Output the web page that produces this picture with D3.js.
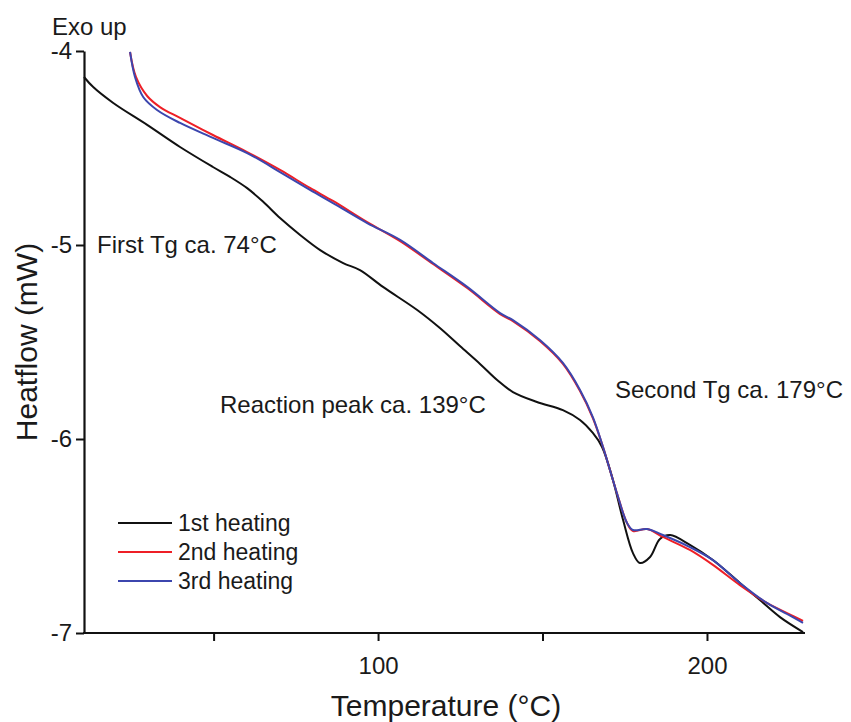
<!DOCTYPE html>
<html>
<head>
<meta charset="utf-8">
<script src="https://cdn.jsdelivr.net/npm/d3@7"></script>
<style>
  body { margin: 0; background: #fff; }
  svg text { font-family: "Liberation Sans", Arial, sans-serif; fill: #1a1a1a; }
</style>
</head>
<body>
<div id="vis"></div>
<script>
// DSC traces: temperature (°C) and heatflow (mW)
var heat1T = [10.6, 13.4, 19.5, 29.8, 39.8, 49.8, 55.0, 60.2, 65.0, 70.2, 76.3, 82.4, 89.4, 94.5, 101.5, 111.9, 118.8, 124.9,
  131.0, 136.2, 141.0, 148.3, 156.2, 161.4, 165.3, 168.1, 171.4, 174.5, 177.5, 179.6, 182.7, 185.7, 188.8,
  194.8, 201.8, 210.0, 216.1, 222.2, 229.2];
var heat1V = [-4.134, -4.186, -4.268, -4.381, -4.495, -4.598, -4.649, -4.707, -4.776, -4.861, -4.948, -5.026, -5.093, -5.129, -5.216,
  -5.335, -5.428, -5.521, -5.613, -5.696, -5.758, -5.809, -5.851, -5.902, -5.969, -6.041, -6.211, -6.418,
  -6.588, -6.639, -6.608, -6.515, -6.495, -6.546, -6.624, -6.742, -6.830, -6.918, -6.995];

var heat2T = [24.6, 26.4, 29.8, 33.7, 39.8, 49.8, 60.2, 70.2, 79.3, 86.3, 96.7, 106.7, 116.7, 127.1, 137.1, 141.0,
  149.2, 156.2, 161.4, 165.3, 168.4, 169.6, 172.6, 175.7, 177.5, 181.8, 186.6, 194.8, 201.8, 210.0, 218.2,
  226.1, 229.2];
var heat2V = [-4.005, -4.134, -4.232, -4.289, -4.345, -4.433, -4.521, -4.613, -4.706, -4.773, -4.882, -4.980, -5.098,
  -5.222, -5.356, -5.392, -5.495, -5.613, -5.753, -5.892, -6.041, -6.108, -6.278, -6.433, -6.474, -6.464,
  -6.505, -6.572, -6.649, -6.753, -6.845, -6.912, -6.938];

var heat3T = [24.6, 26.1, 28.6, 32.8, 39.8, 49.8, 60.2, 70.2, 79.3, 86.3, 96.7, 106.7, 116.7, 127.1, 137.1, 141.0,
  149.2, 156.2, 161.4, 165.3, 168.4, 169.6, 172.6, 175.7, 177.5, 181.8, 186.6, 194.8, 201.8, 210.0, 218.2,
  226.1, 229.2];
var heat3V = [-4.005, -4.134, -4.237, -4.304, -4.371, -4.448, -4.526, -4.624, -4.716, -4.784, -4.887, -4.974, -5.093,
  -5.216, -5.351, -5.387, -5.490, -5.608, -5.747, -5.887, -6.041, -6.108, -6.278, -6.433, -6.469, -6.464,
  -6.495, -6.557, -6.624, -6.742, -6.845, -6.918, -6.948];

var seriesNames = ['1st heating', '2nd heating', '3rd heating'];
var seriesColors = ['#111111', '#ee1f26', '#3c46ae'];

var xTicks = [50, 100, 150, 200];
var xTickLabels = ['', '100', '', '200'];
var yTicks = [-4, -5, -6, -7];

var notes = ['First Tg ca. 74°C', 'Reaction peak ca. 139°C', 'Second Tg ca. 179°C'];

// layout
var width = 851, height = 722;
var plot = { left: 84, right: 805, top: 51, bottom: 633 };

var svg = d3.select('#vis').append('svg')
  .attr('width', width)
  .attr('height', height);

var x = d3.scaleLinear().domain([10.6, 229.8]).range([plot.left, plot.right]);
var y = d3.scaleLinear().domain([-7, -4]).range([plot.bottom, plot.top]);

// build the three series from the arrays
var series = [
  d3.zip(heat1T, heat1V),
  d3.zip(heat2T, heat2V),
  d3.zip(heat3T, heat3V)
];

var line = d3.line()
  .x(function (d) { return x(d[0]); })
  .y(function (d) { return y(d[1]); })
  .curve(d3.curveCatmullRom.alpha(0.5));

svg.append('g')
  .selectAll('path')
  .data(series)
  .enter().append('path')
  .attr('d', line)
  .attr('fill', 'none')
  .attr('stroke', function (d, i) { return seriesColors[i]; })
  .attr('stroke-width', 2)
  .attr('stroke-linejoin', 'round');

// axes
var xAxis = d3.axisBottom(x)
  .tickValues(xTicks)
  .tickFormat(function (d, i) { return xTickLabels[i]; })
  .tickSizeInner(8)
  .tickSizeOuter(0)
  .tickPadding(16);

var yAxis = d3.axisLeft(y)
  .tickValues(yTicks)
  .tickFormat(function (d) { return String(d); })   // plain hyphen like the original
  .tickSizeInner(8)
  .tickSizeOuter(0)
  .tickPadding(4);

var gx = svg.append('g')
  .attr('transform', 'translate(0,' + plot.bottom + ')')
  .call(xAxis);

var gy = svg.append('g')
  .attr('transform', 'translate(' + plot.left + ',0)')
  .call(yAxis);

[gx, gy].forEach(function (g) {
  g.select('.domain').attr('stroke', '#111').attr('stroke-width', 2.2);
  g.selectAll('.tick line').attr('stroke', '#111').attr('stroke-width', 2);
  g.selectAll('.tick text')
    .attr('font-size', 24)
    .style('font-family', '"Liberation Sans", Arial, sans-serif')
    .attr('fill', '#1a1a1a');
});
// x line runs flush to the y line
gx.select('.domain').attr('d', 'M' + (plot.left - 1) + ',0H' + plot.right);

// axis titles
svg.append('text')
  .attr('x', 446)
  .attr('y', 716)
  .attr('text-anchor', 'middle')
  .attr('font-size', 30)
  .text('Temperature (°C)');

svg.append('text')
  .attr('transform', 'translate(37,342) rotate(-90)')
  .attr('text-anchor', 'middle')
  .attr('font-size', 30)
  .text('Heatflow (mW)');

svg.append('text')
  .attr('x', 52)
  .attr('y', 35)
  .attr('font-size', 24)
  .text('Exo up');

// annotations
var notePos = [[97, 253], [220, 413], [615, 398]];
svg.append('g')
  .selectAll('text')
  .data(notes)
  .enter().append('text')
  .attr('x', function (d, i) { return notePos[i][0]; })
  .attr('y', function (d, i) { return notePos[i][1]; })
  .attr('font-size', 24)
  .text(function (d) { return d; });

// legend
var legend = svg.append('g').attr('transform', 'translate(118,523)');
var items = legend.selectAll('g')
  .data(seriesNames)
  .enter().append('g')
  .attr('transform', function (d, i) { return 'translate(0,' + i * 29 + ')'; });

items.append('line')
  .attr('x1', 0).attr('x2', 54)
  .attr('stroke', function (d, i) { return seriesColors[i]; })
  .attr('stroke-width', 2);

items.append('text')
  .attr('x', 60)
  .attr('dy', '0.35em')
  .attr('font-size', 23)
  .text(function (d) { return d; });
</script>
</body>
</html>
